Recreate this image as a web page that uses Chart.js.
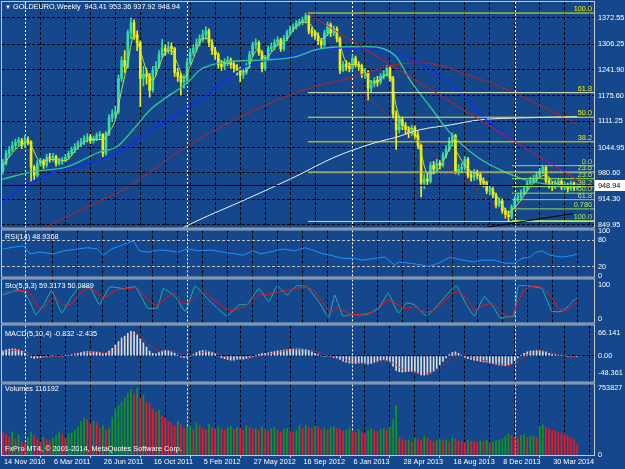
<!DOCTYPE html>
<html><head><meta charset="utf-8">
<script src="https://cdn.jsdelivr.net/npm/chart.js@4.4.1/dist/chart.umd.min.js"></script>
<style>
html,body{margin:0;padding:0;background:#14478b;width:625px;height:469px;overflow:hidden;position:relative;}
canvas{position:absolute;left:0;}
.t{position:absolute;left:5px;color:#fff;font-family:"Liberation Sans",Arial,sans-serif;font-size:7.3px;white-space:nowrap;line-height:9px;}
</style></head><body>
<canvas id="cMain" width="625" height="244" style="top:-8px"></canvas>
<canvas id="cRsi" width="625" height="63" style="top:222px"></canvas>
<canvas id="cSto" width="625" height="60" style="top:271px"></canvas>
<canvas id="cMacd" width="625" height="73" style="top:317px"></canvas>
<canvas id="cVol" width="625" height="93" style="top:376px"></canvas>
<div class="t" style="top:2px"><span style="font-size:6px">▼</span> GOLDEURO,Weekly&nbsp; 943.41 953.36 937.92 948.94</div>
<div class="t" style="top:232px">RSI(14) 48.9368</div>
<div class="t" style="top:281px">Sto(5,3,3) 59.3173 50.0889</div>
<div class="t" style="top:329px">MACD(5,10,4) -0.832 -2.435</div>
<div class="t" style="top:384px">Volumes 116192</div>
<div class="t" style="top:444px">FxPro MT4, © 2001-2014, MetaQuotes Software Corp.</div>
<script>
// ---------------- DATA ----------------
const xLabelIdx = [0,16,32,48,64,80,96,112,128,144,160,176];
const xLabels = ['14 Nov 2010','6 Mar 2011','26 Jun 2011','16 Oct 2011','5 Feb 2012','27 May 2012','16 Sep 2012','6 Jan 2013','28 Apr 2013','18 Aug 2013','8 Dec 2013','30 Mar 2014'];
const gridIdx = [0,8,16,24,32,40,48,56,64,72,80,88,96,104,112,120,128,136,144,152,160,168,176,184];
const hiddenGridIdx = [0,8,112];
const yearSepIdx = [7,59,112,164];

const firstOpen = 985;
const closes = [
1005,1030,1040,1050,1058,1062,1050,1065,1060,995,
975,1005,1010,1000,1020,1018,1022,1005,1010,1012,
1020,1030,1040,1047,1055,1060,1068,1072,1062,1068,
1075,1078,1030,1080,1120,1130,1135,1220,1265,1250,
1335,1360,1330,1310,1220,1230,1225,1190,1240,1250,
1280,1295,1290,1300,1295,1235,1225,1210,1215,1260,
1285,1295,1310,1320,1330,1340,1310,1290,1280,1255,
1250,1262,1266,1255,1245,1240,1228,1235,1250,1280,
1305,1310,1285,1245,1270,1295,1300,1310,1317,1295,
1320,1335,1345,1350,1360,1362,1367,1378,1340,1335,
1328,1315,1305,1335,1355,1335,1345,1320,1240,1255,
1250,1245,1270,1255,1250,1230,1235,1195,1205,1215,
1210,1225,1230,1245,1220,1130,1090,1115,1100,1090,
1080,1095,1075,1050,955,965,960,1000,990,1005,
1000,1025,1040,1060,1075,985,990,995,1015,975,
970,980,975,960,955,935,938,925,900,910,
885,875,870,895,915,920,930,940,955,962,
965,975,985,995,960,950,945,955,960,945,
950,940,955,943.41,948.94];
const highs = [
1015,1038,1048,1060,1066,1070,1068,1075,1072,1062,
1000,1012,1018,1015,1028,1030,1030,1026,1018,1020,
1028,1036,1046,1055,1062,1068,1075,1080,1078,1074,
1082,1086,1080,1086,1128,1140,1150,1228,1275,1290,
1342,1372,1368,1340,1315,1250,1245,1232,1250,1262,
1290,1318,1305,1312,1310,1298,1245,1232,1228,1268,
1295,1305,1320,1330,1342,1350,1345,1318,1298,1285,
1265,1270,1275,1272,1262,1255,1248,1245,1258,1288,
1312,1320,1315,1290,1278,1302,1310,1318,1325,1322,
1328,1342,1352,1358,1366,1370,1375,1385,1382,1348,
1342,1335,1320,1342,1362,1360,1352,1350,1325,1262,
1265,1260,1278,1276,1262,1256,1245,1240,1215,1222,
1225,1232,1240,1252,1250,1225,1138,1125,1122,1108,
1098,1102,1100,1085,1055,978,980,1008,1010,1015,
1012,1032,1050,1070,1082,1078,1002,1005,1022,1020,
985,990,988,980,968,960,948,945,930,918,
915,892,885,900,922,928,938,948,962,970,
975,982,992,1000,998,968,958,962,966,964,
958,955,960,958,953.36];
const lows = [
978,1000,1022,1035,1042,1048,1042,1045,1052,958,
962,970,998,992,995,1008,1010,998,1000,1002,
1008,1015,1025,1032,1040,1048,1052,1058,1055,1056,
1062,1066,1022,1025,1075,1110,1118,1130,1212,1235,
1245,1320,1318,1290,1148,1200,1205,1172,1185,1228,
1245,1272,1278,1282,1280,1225,1212,1178,1195,1210,
1255,1278,1288,1302,1312,1320,1300,1280,1268,1245,
1240,1242,1252,1245,1235,1228,1211,1220,1230,1246,
1275,1295,1278,1236,1240,1265,1288,1292,1302,1288,
1290,1315,1330,1338,1344,1352,1355,1360,1332,1325,
1318,1305,1295,1300,1328,1325,1328,1312,1232,1236,
1240,1236,1240,1248,1240,1222,1220,1165,1185,1198,
1200,1205,1218,1225,1212,1120,1040,1082,1090,1080,
1070,1074,1066,1042,920,940,950,955,978,985,
990,995,1018,1035,1050,978,975,982,988,968,
960,962,965,950,945,928,925,918,892,895,
878,866,860,865,890,908,912,925,935,948,
955,958,968,978,955,942,936,940,948,938,
938,932,936,936,937.92];

const maFast = [[0,1000],[4,1040],[8,1058],[12,1010],[16,1015],[20,1012],[24,1045],[28,1065],[32,1065],[34,1085],[36,1115],[38,1190],[40,1260],[42,1330],[44,1290],[46,1240],[48,1215],[50,1250],[52,1285],[54,1290],[56,1255],[58,1220],[60,1250],[62,1290],[64,1320],[66,1320],[68,1290],[70,1262],[72,1258],[74,1255],[76,1238],[78,1238],[80,1275],[82,1295],[84,1270],[86,1285],[88,1305],[90,1310],[92,1330],[94,1352],[96,1362],[98,1360],[100,1340],[102,1320],[104,1330],[106,1345],[108,1305],[110,1260],[112,1255],[114,1255],[116,1235],[118,1210],[120,1212],[122,1225],[124,1230],[126,1150],[128,1105],[130,1095],[132,1085],[134,1030],[136,980],[138,980],[140,995],[142,1025],[144,1050],[146,1025],[148,1000],[150,985],[152,978],[154,962],[156,945],[158,925],[160,900],[162,880],[164,893],[166,912],[168,935],[170,955],[172,970],[174,975],[176,960],[178,952],[180,950],[182,948],[184,947]];
const maMid = [[-1,963],[9.6,984],[20.5,996],[31.1,1034],[36.5,1047],[41.7,1090],[47.1,1140],[52.6,1173],[59,1208],[63.1,1241],[71.2,1261],[83,1266],[93.6,1274],[100,1292],[106.4,1299],[116,1300],[125.6,1278],[130.4,1216],[136.9,1148],[143.3,1082],[152,1021],[161.5,981],[169.9,958],[184,947]];
const maBlue = [[-1,900],[7,948],[15,978],[23.7,998],[31,1014],[39.7,1045],[49.4,1097],[63.1,1165],[77.6,1249],[93.6,1279],[106.4,1297],[125.6,1284],[134.6,1254],[145.5,1191],[156,1107],[166.7,1047],[175.3,1006],[184,976]];
const maRed = [[10,830],[14.1,845],[31,910],[39.7,943],[50,1000],[63.1,1068],[93.6,1183],[112.8,1224],[125.6,1254],[134.6,1259],[150.6,1224],[166.7,1173],[184,1104]];
const maWhite = [[56,835],[61.5,857],[77.6,913],[93.6,971],[106.4,1021],[119.2,1057],[125.6,1070],[133.7,1090],[143.3,1102],[152.9,1115],[166.7,1120],[184,1123]];

const priceTicks = [1372.55,1306.25,1241.90,1175.60,1111.25,1044.95,980.60,914.30,849.95];
const lastPrice = 948.94;

const fibBigLabels = ['100.0','61.8','50.0','38.2','23.6','0.0'];
const fibBigPrices = [1385,1183.6,1121.5,1059.3,982.4,858];
const fibBigStart = 97.7;
const fibSmallLabels = ['0.0','23.6','38.2','50.0','61.8','0.786','100.0'];
const fibSmallPrices = [999,966.2,945.9,929.5,913.1,889.7,860];
const fibSmallStart = 163.1;

const trendRed = [[97.7,1383],[189.4,937]];
const trendRedDot = [[109.6,1221],[162.5,862.6]];
const trendRedDot2 = [[164.7,885],[168.3,920]];
const trendBlack = [[149.7,837],[182.7,877.7]];

const rsi = [[0,60],[3,64],[6.7,67],[8.6,49],[11.8,53],[16.3,49],[19.5,56],[23.9,60],[27.1,63],[30.3,60],[32.2,46],[34.8,60],[37.3,67],[39.9,74],[41.8,78],[43.7,56],[46.3,53],[50.1,58],[53.3,56],[55.9,53],[59.1,60],[62.9,56],[66.7,58],[70.5,53],[74.4,49],[76.9,46],[80.1,56],[82.7,49],[87.1,56],[89.7,60],[93.5,56],[96.7,63],[99.9,56],[102.5,49],[105,46],[108.8,39],[112.7,39],[115.2,35],[119.1,39],[122.3,42],[125.5,24],[126.7,31],[130.6,28],[134.4,24],[136.3,21],[139.5,28],[143.3,42],[147.2,35],[151,31],[153.6,35],[157.4,35],[161.2,28],[163.8,28],[166.3,39],[168.9,42],[170.8,53],[172.7,56],[175.3,46],[179.1,42],[182.9,46],[184,48.94]];
const rsiTicks = [100,80,20,0];

const stochMain = [[0,71],[4.1,85],[6.7,81],[8.6,51],[10.5,12],[13.1,42],[15.6,85],[18.8,17],[22,66],[24.6,95],[27.8,95],[30.9,42],[34.2,95],[38.6,90],[42.5,95],[46.3,32],[49.5,32],[51.4,90],[55.2,66],[58.4,22],[61.6,98],[65.4,61],[68.6,32],[71.8,8],[75.7,42],[78.2,42],[82,90],[85.2,51],[87.8,98],[91,71],[94.2,99],[97.4,95],[101.2,51],[104.4,3],[106.3,71],[108.9,8],[111.4,12],[116.5,12],[120.4,32],[123.5,76],[126.7,17],[129.3,47],[131.8,42],[135.7,8],[139.5,42],[142.1,71],[145.3,98],[148.5,42],[151,8],[154.2,66],[157.4,32],[159.3,2],[161.2,5],[163.8,8],[165.1,98],[167.6,99],[170.2,95],[172.7,90],[175.9,22],[179.1,22],[181.6,42],[182.9,56],[184,59.32]];
const stochSignal = [[0,80],[4,82],[7,85],[9,70],[11,40],[13,30],[15,55],[17,65],[19,40],[22,45],[25,80],[28,92],[31,70],[33,65],[36,85],[40,90],[43,92],[46,60],[49,40],[52,60],[55,75],[58,45],[61,60],[64,85],[67,60],[70,40],[72,25],[75,28],[78,40],[82,70],[85,72],[88,80],[91,85],[94,90],[97,95],[100,80],[103,40],[105,20],[107,30],[109,25],[112,12],[116,15],[120,25],[123,55],[126,45],[129,30],[132,35],[135,20],[138,25],[141,50],[144,75],[146,80],[149,55],[151,25],[154,40],[157,45],[160,15],[163,8],[165,50],[167,85],[170,98],[173,92],[176,60],[178,30],[180,25],[182,35],[184,50.09]];
const stochTicks = [100,0];

const macdHist = [
15,18,20,21,20,18,14,
8,2,-4,-7,-6,-5,-3,-2,
0,1,0,-1,0,1,2,
4,6,8,10,12,13,13,12,11,10,
6,8,14,22,32,42,52,58,66,72,
70,62,50,38,26,14,
8,6,10,14,16,15,12,8,
2,-3,-5,-4,-1,4,
10,14,16,15,13,10,6,
0,-5,-8,-10,-12,-12,-11,-10,-9,-7,-4,-1,2,
5,7,8,9,11,13,15,
16,17,18,19,20,21,21,20,18,16,12,8,
4,0,-1,0,-2,-4,-6,-10,
-15,-18,-20,-22,-22,-21,-20,-22,-24,-22,-18,-15,-12,-10,
-12,-18,-30,-42,-46,
-47,-46,-45,-46,-47,-50,-55,-56,-54,-50,-44,-36,-26,-16,-6,
4,10,12,8,2,
-4,-8,-10,-12,-14,-16,-17,-18,-20,-22,-24,-26,-27,-28,-26,-22,-14,
-6,2,8,12,14,15,16,16,14,12,8,5,3,2,
1,0,-1,-1,-1,-0.832];
const macdSignal = [[0,12],[4,16],[7,12],[10,2],[13,-4],[16,-2],[20,0],[24,5],[28,10],[31,11],[34,10],[37,25],[40,50],[42,62],[44,58],[46,40],[48,25],[51,14],[54,14],[57,5],[60,0],[63,8],[66,13],[69,6],[72,-5],[75,-10],[79,-8],[82,0],[86,7],[90,14],[94,18],[98,19],[101,10],[104,1],[107,-3],[110,-12],[114,-20],[118,-22],[122,-14],[125,-20],[128,-38],[132,-46],[136,-50],[140,-36],[143,-10],[146,8],[149,-2],[152,-10],[156,-16],[160,-24],[163,-25],[166,-8],[169,8],[172,15],[175,12],[178,5],[181,0],[184,-2.435]];
const macdTicks = [66.141,0,-48.361];
const macdTickText = ['66.141','0.00','-48.361'];

const volumesK = [
250,230,200,260,180,230,150,120,200,260,
220,180,150,200,170,160,190,220,260,230,
190,240,250,280,310,380,420,400,350,380,
360,300,330,280,300,420,520,560,600,650,
700,740,680,753.827,640,680,600,580,520,480,
500,440,420,380,360,330,380,340,300,310,
330,290,360,330,300,280,350,310,290,320,
300,280,310,330,290,310,300,280,330,310,
290,300,280,320,290,270,300,310,280,260,
290,300,270,250,280,330,300,340,310,300,
330,320,290,300,280,310,320,300,290,270,
280,300,270,260,290,250,240,280,300,270,
260,290,300,280,320,400,560,200,180,160,
170,150,190,180,170,210,190,160,150,170,
180,160,170,150,190,180,160,150,140,170,
160,150,140,160,150,170,140,150,160,170,
180,210,230,220,200,190,220,230,200,210,
220,200,330,340,310,300,280,270,260,250,
230,220,200,180,116.192];
const volTicks = [753827,0];

// ---------------- STYLE / HELPERS ----------------
const X_MIN = -0.32, X_MAX = 189.4;
const FONT = {family:'"Liberation Sans", Arial, sans-serif', size:7.3};
const BULL = '#38dca0', BEAR = '#f0f000';
const pts = a => a.map(([x,y]) => ({x, y}));

const mt4Plugin = {
  id: 'mt4',
  beforeDatasetsDraw(chart) {
    const {ctx, chartArea: a, scales: {x}} = chart;
    ctx.save();
    ctx.beginPath(); ctx.rect(a.left, a.top, a.right - a.left, a.bottom - a.top); ctx.clip();
    ctx.strokeStyle = '#ffffff'; ctx.lineWidth = 1; ctx.setLineDash([2,2]);
    yearSepIdx.forEach(i => {
      const px = Math.round(x.getPixelForValue(i)) + 0.5;
      ctx.beginPath(); ctx.moveTo(px, a.top); ctx.lineTo(px, a.bottom); ctx.stroke();
    });
    ctx.restore();
  },
  afterDraw(chart, args, opts) {
    const {ctx, chartArea: a} = chart;
    ctx.save();
    if (opts.labels) {
      ctx.font = '7.3px "Liberation Sans", Arial, sans-serif';
      ctx.textAlign = 'right'; ctx.textBaseline = 'bottom';
      opts.labels.forEach(l => {
        ctx.fillStyle = l.color;
        ctx.fillText(l.text, a.right - 2, chart.scales.y.getPixelForValue(l.value) - 0.5);
      });
    }
    ctx.setLineDash([]); ctx.strokeStyle = '#c8c8c8'; ctx.lineWidth = 1;
    ctx.strokeRect(a.left - 0.5, a.top - 0.5, a.right - a.left + 1, a.bottom - a.top + 1);
    if (opts.priceBox != null) {
      const y = Math.round(chart.scales.y.getPixelForValue(opts.priceBox));
      ctx.fillStyle = '#ffffff';
      ctx.fillRect(a.right + 1, y - 5, 30, 11);
      ctx.fillStyle = '#000000';
      ctx.font = '7.3px "Liberation Sans", Arial, sans-serif';
      ctx.textAlign = 'left'; ctx.textBaseline = 'middle';
      ctx.fillText(opts.priceBox.toFixed(2), a.right + 4, y + 0.5);
    }
    ctx.restore();
  }
};

function baseOptions(o) {
  return {
    responsive: false, animation: false, events: [], devicePixelRatio: 1,
    layout: {padding: {left: 2, right: 0, top: o.padTop, bottom: o.padBottom}},
    plugins: {legend: {display: false}, tooltip: {enabled: false}, mt4: o.mt4 || {}},
    scales: {
      x: {
        type: 'linear', min: X_MIN, max: X_MAX, offset: false,
        afterBuildTicks: s => { s.ticks = gridIdx.map(v => ({value: v})); },
        afterFit: s => { s.height = o.showX ? 14 : 0; },
        grid: {
          color: c => (c.tick && hiddenGridIdx.includes(c.tick.value)) ? 'rgba(0,0,0,0)' : '#000000',
          lineWidth: 1, drawTicks: !!o.showX, tickLength: 3,
          tickColor: c => (c.tick && xLabelIdx.includes(c.tick.value)) ? '#c8c8c8' : 'rgba(0,0,0,0)'
        },
        border: {display: false, dash: [3,2]},
        ticks: {
          display: !!o.showX, autoSkip: false, maxRotation: 0, minRotation: 0, align: 'start',
          padding: 0, labelOffset: 1, color: '#ffffff', font: FONT,
          callback: v => { const k = xLabelIdx.indexOf(v); return k >= 0 ? xLabels[k] : ''; }
        }
      },
      y: {
        position: 'right', min: o.yMin, max: o.yMax,
        afterBuildTicks: s => { s.ticks = o.yTicks.map(v => ({value: v})); },
        afterFit: s => { s.width = 31; },
        grid: {color: o.yGrid || (() => 'rgba(0,0,0,0)'), lineWidth: 1, drawTicks: false},
        border: {display: false, dash: [3,2]},
        ticks: {autoSkip: false, padding: 4, color: '#ffffff', font: FONT, callback: o.yFmt}
      }
    }
  };
}

// ---------------- MAIN CHART ----------------
const idx = closes.map((_, i) => i);
const opens = closes.map((c, i) => i === 0 ? firstOpen : closes[i - 1]);
const candleCol = idx.map(i => closes[i] >= opens[i] ? BULL : BEAR);

const lineDs = (data, color, width, order, extra) => Object.assign({
  type: 'line', data: pts(data), borderColor: color, borderWidth: width,
  pointRadius: 0, fill: false, order: order, tension: 0
}, extra || {});

const mainDatasets = [
  lineDs([[X_MIN, lastPrice],[X_MAX, lastPrice]], '#000000', 1, 0),
  lineDs(trendRed, '#e01818', 1, 1),
  lineDs(trendRedDot, '#e01818', 1, 1, {borderDash: [2,2]}),
  lineDs(trendRedDot2, '#e01818', 1, 1, {borderDash: [2,2]}),
  lineDs(trendBlack, '#000000', 1, 1)
];
const bigCol = ['#f0f000','#f4f4c0','#f0f000','#f0f000','rgba(200,200,110,0.75)','#f0f000'];
fibBigPrices.forEach((p, k) => mainDatasets.push(lineDs([[fibBigStart, p],[X_MAX, p]], bigCol[k], k === 4 ? 2 : 1, 2)));
fibSmallPrices.forEach(p => mainDatasets.push(lineDs([[fibSmallStart, p],[X_MAX, p]], '#98dc48', 1, 2)));
mainDatasets.push(
  lineDs(maFast, '#c8e040', 1, 3, {cubicInterpolationMode: 'monotone'}),
  lineDs(maMid, '#2cc890', 1.4, 3, {cubicInterpolationMode: 'monotone'}),
  lineDs(maBlue, '#1030ee', 1.6, 3, {cubicInterpolationMode: 'monotone'}),
  lineDs(maRed, '#c81e1e', 1, 3, {cubicInterpolationMode: 'monotone'}),
  lineDs(maWhite, '#f0f0f0', 1, 3, {cubicInterpolationMode: 'monotone'}),
  {type: 'bar', data: idx.map(i => ({x: i, y: [opens[i], closes[i]]})), backgroundColor: candleCol,
   barThickness: 2, grouped: false, minBarLength: 1, order: 10},
  {type: 'bar', data: idx.map(i => ({x: i, y: [lows[i], highs[i]]})), backgroundColor: candleCol,
   barThickness: 1, grouped: false, order: 11}
);
const fibLabelList = [];
fibBigLabels.forEach((t, k) => { if (t !== '0.0') fibLabelList.push({text: t, value: fibBigPrices[k], color: '#f0f000'}); });
fibSmallLabels.forEach((t, k) => fibLabelList.push({text: t, value: fibSmallPrices[k], color: '#b4e46a'}));

new Chart(document.getElementById('cMain'), {
  type: 'bar',
  data: {datasets: mainDatasets},
  options: baseOptions({
    padTop: 10, padBottom: 8, showX: false,
    yMin: 842.38, yMax: 1412.94, yTicks: priceTicks,
    yFmt: v => Number(v).toFixed(2),
    yGrid: () => '#000000',
    mt4: {labels: fibLabelList, priceBox: lastPrice}
  }),
  plugins: [mt4Plugin]
});

// ---------------- RSI ----------------
new Chart(document.getElementById('cRsi'), {
  type: 'line',
  data: {datasets: [lineDs(rsi, '#1e90ff', 1, 0)]},
  options: baseOptions({
    padTop: 8, padBottom: 8, showX: false,
    yMin: -2, yMax: 102, yTicks: rsiTicks, yFmt: v => String(v),
    yGrid: c => (c.tick && (c.tick.value === 80 || c.tick.value === 20)) ? '#c0c0c0' : 'rgba(0,0,0,0)'
  }),
  plugins: [mt4Plugin]
});

// ---------------- STOCHASTIC ----------------
new Chart(document.getElementById('cSto'), {
  type: 'line',
  data: {datasets: [
    lineDs(stochSignal, '#ff1010', 1, 0, {tension: 0.2}),
    lineDs(stochMain, '#20b2aa', 1, 1, {tension: 0.1})
  ]},
  options: baseOptions({
    padTop: 8, padBottom: 8, showX: false,
    yMin: -11.7, yMax: 117.5, yTicks: stochTicks, yFmt: v => String(v)
  }),
  plugins: [mt4Plugin]
});

// ---------------- MACD ----------------
new Chart(document.getElementById('cMacd'), {
  type: 'bar',
  data: {datasets: [
    lineDs(macdSignal, '#ff2020', 1, 0, {borderDash: [2,2], cubicInterpolationMode: 'monotone'}),
    {type: 'bar', data: idx.map(i => ({x: i, y: macdHist[i]})), backgroundColor: '#dcdcdc',
     barThickness: 1, grouped: false, order: 1}
  ]},
  options: baseOptions({
    padTop: 8, padBottom: 8, showX: false,
    yMin: -74.6, yMax: 89, yTicks: macdTicks,
    yFmt: v => { const k = macdTicks.indexOf(v); return k >= 0 ? macdTickText[k] : ''; },
    yGrid: c => (c.tick && c.tick.value === 0) ? '#000000' : 'rgba(0,0,0,0)'
  }),
  plugins: [mt4Plugin]
});

// ---------------- VOLUMES ----------------
const volCol = volumesK.map((v, i) => (i > 0 && v > volumesK[i - 1]) ? '#139a13' : '#ff1414');
new Chart(document.getElementById('cVol'), {
  type: 'bar',
  data: {datasets: [
    {data: volumesK.map((v, i) => ({x: i, y: v * 1000})), backgroundColor: volCol,
     barThickness: 1, grouped: false}
  ]},
  options: baseOptions({
    padTop: 8, padBottom: 0, showX: true,
    yMin: 0, yMax: 798831, yTicks: volTicks, yFmt: v => String(v)
  }),
  plugins: [mt4Plugin]
});
</script>
</body></html>
